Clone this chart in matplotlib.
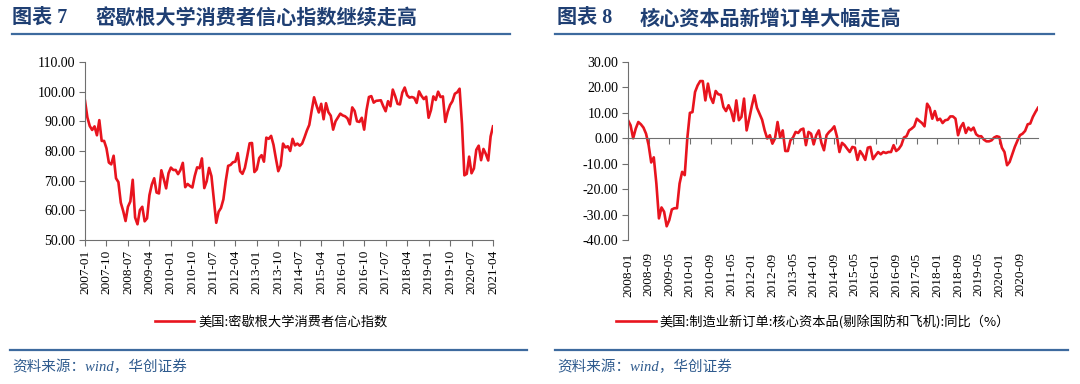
import matplotlib
matplotlib.use("Agg")
from matplotlib import pyplot as plt
from matplotlib.lines import Line2D
import numpy as np

plt.rcParams['font.family'] = ['Noto Sans CJK SC', 'DejaVu Sans']

# 美国:密歇根大学消费者信心指数, 2007-01 .. 2021-04
umich = [
    96.9, 91.3, 88.4, 87.1, 88.3, 85.3, 90.4, 83.4, 83.4, 80.9, 76.1, 75.5,
    78.4, 70.8, 69.5, 62.6, 59.8, 56.4, 61.2, 63.0, 70.3, 57.6, 55.3, 60.1,
    61.2, 56.3, 57.3, 65.1, 68.7, 70.8, 66.0, 65.7, 73.5, 70.6, 67.4, 72.5,
    74.4, 73.6, 73.6, 72.2, 73.6, 76.0, 67.8, 68.9, 68.2, 67.7, 71.6, 74.5,
    74.2, 77.5, 67.5, 69.8, 74.3, 71.5, 63.7, 55.8, 59.5, 60.8, 63.7, 69.9,
    75.0, 75.3, 76.2, 76.4, 79.3, 73.2, 72.3, 74.3, 78.3, 82.6, 82.7, 72.9,
    73.8, 77.6, 78.6, 76.4, 84.5, 84.1, 85.1, 82.1, 77.5, 73.2, 75.1, 82.5,
    81.2, 81.6, 80.0, 84.1, 81.9, 82.5, 81.8, 82.5, 84.6, 86.9, 88.8, 93.6,
    98.1, 95.4, 93.0, 95.9, 90.7, 96.1, 93.1, 91.9, 87.2, 90.0, 91.3, 92.6,
    92.0, 91.7, 91.0, 89.0, 94.7, 93.5, 90.0, 89.8, 91.2, 87.2, 93.8, 98.2,
    98.5, 96.3, 96.9, 97.0, 97.1, 95.1, 93.4, 96.8, 95.1, 100.7, 98.5, 95.9,
    95.7, 99.7, 101.4, 98.8, 98.0, 98.2, 97.9, 96.2, 100.1, 98.6, 97.5, 98.3,
    91.2, 93.8, 98.4, 97.2, 100.0, 98.2, 98.4, 89.8, 93.2, 95.5, 96.8, 99.3,
    99.8, 101.0, 89.1, 71.8, 72.3, 78.1, 72.5, 74.1, 80.4, 81.8, 76.9, 80.7,
    79.0, 76.8, 84.9, 88.3,
]

# 美国:制造业新订单:核心资本品(剔除国防和飞机):同比, 2008-01 .. 2021-04
core_orders = [
    7.1, 5.1, 0.0, 3.8, 6.4, 5.5, 4.2, 1.8, -2.7, -9.5, -7.5, -17.8,
    -31.5, -27.2, -28.9, -34.6, -32.2, -28.0, -27.5, -27.5, -17.8, -13.2, -14.5, 0.0,
    10.0, 10.3, 18.2, 20.8, 22.5, 22.5, 14.9, 21.5, 16.2, 13.9, 18.6, 17.3,
    17.1, 12.3, 10.7, 13.0, 10.7, 6.8, 14.9, 7.1, 8.4, 15.6, 3.1, 7.7,
    12.6, 16.9, 12.0, 9.7, 7.3, 3.1, -0.1, 1.2, -2.1, -0.1, 6.4, 0.3,
    3.1, -5.0, -5.0, -0.8, 0.3, 2.5, 2.1, 3.4, 3.8, -2.7, 2.5, 1.8,
    -2.4, 1.2, 3.1, -1.8, -4.7, 1.2, 2.5, 3.4, 4.7, 0.8, -5.4, -1.8,
    -2.7, -4.1, -5.4, -3.4, -3.7, -8.5, -5.0, -6.5, -8.5, -3.7, -3.4, -8.2,
    -6.7, -5.4, -6.3, -5.4, -5.8, -5.4, -5.4, -2.7, -5.0, -4.2, -2.7, 0.3,
    0.8, 3.1, 3.8, 4.7, 7.7, 6.8, 6.0, 4.7, 13.6, 12.0, 7.7, 10.7,
    7.1, 7.7, 6.0, 7.1, 7.3, 8.6, 8.6, 7.7, 1.2, 4.4, 6.0, 2.1,
    4.2, 3.1, 4.2, 1.6, 0.8, 0.8, -0.5, -1.2, -1.2, -0.8, 0.3, 0.8,
    0.5, -3.7, -5.4, -10.6, -9.3, -6.3, -3.4, -1.0, 1.2, 1.8, 2.9, 5.5,
    5.8, 8.4, 10.3, 12.0,
]

left_start = 2007
right_start = 2008
red = '#e8141e'
blue = '#2f5b8e'
title_col = '#1f3f73'
axis_col = '#6f6f6f'
num_font = 'Liberation Serif'


def month_label(start, i):
    return str(start + i // 12) + "-" + "%02d" % (i % 12 + 1)


fig = plt.figure(figsize=(10.8, 3.84), dpi=100)

# ---- left chart ----
ax1 = fig.add_axes([85 / 1080, 1 - 240 / 384, 408 / 1080, 178 / 384])
x1 = np.arange(len(umich))
ax1.plot(x1, umich, color=red, lw=1.9, label="美国:密歇根大学消费者信心指数")
ax1.set_xlim(0, len(umich) - 1)
ax1.set_ylim(50, 110)
ax1.set_yticks(np.arange(50, 111, 10))
ax1.set_yticklabels(["%.2f" % v for v in np.arange(50, 111, 10)], family=num_font, fontsize=10)
t1 = np.arange(0, len(umich), 9)
ax1.set_xticks(t1)
ax1.set_xticklabels([month_label(left_start, i) for i in t1], rotation=90,
                    family=num_font, fontsize=9.5)
for s in ['top', 'right']:
    ax1.spines[s].set_visible(False)
for s in ['left', 'bottom']:
    ax1.spines[s].set_color(axis_col)
ax1.tick_params(colors=axis_col, labelcolor='black', length=4, width=0.8, pad=3)
ax1.legend(loc='center', bbox_to_anchor=(271 / 1080, 1 - 322 / 384),
           bbox_transform=fig.transFigure, frameon=False, fontsize=9.5,
           handlelength=3.0, handletextpad=0.3)

# ---- right chart ----
ax2 = fig.add_axes([628 / 1080, 1 - 240 / 384, 410 / 1080, 178 / 384])
x2 = np.arange(len(core_orders))
ax2.plot(x2, core_orders, color=red, lw=1.9,
         label="美国:制造业新订单:核心资本品(剔除国防和飞机):同比（%）")
ax2.set_xlim(0, len(core_orders) - 1)
ax2.set_ylim(-40, 30)
ax2.set_yticks(np.arange(-40, 31, 10))
ax2.set_yticklabels(["%.2f" % v for v in np.arange(-40, 31, 10)], family=num_font, fontsize=10)
t2 = np.arange(0, len(core_orders), 8)
ax2.set_xticks(t2)
ax2.set_xticklabels([])
ax2.spines['bottom'].set_position(('data', 0))
for s in ['top', 'right']:
    ax2.spines[s].set_visible(False)
for s in ['left', 'bottom']:
    ax2.spines[s].set_color(axis_col)
ax2.tick_params(colors=axis_col, labelcolor='black', length=4, width=0.8, pad=3)
sec = ax2.secondary_xaxis(0)
sec.set_xticks(t2)
sec.set_xticklabels([month_label(right_start, i) for i in t2], rotation=90,
                    family=num_font, fontsize=9.5)
sec.spines['bottom'].set_visible(False)
sec.tick_params(length=0, pad=9)
ax2.legend(loc='center', bbox_to_anchor=(813 / 1080, 1 - 322 / 384),
           bbox_transform=fig.transFigure, frameon=False, fontsize=9.5,
           handlelength=3.0, handletextpad=0.3)

# ---- titles, rules, source ----
for x0, num, title in [(12, "图表 7", "密歇根大学消费者信心指数继续走高"),
                       (557, "图表 8", "核心资本品新增订单大幅走高")]:
    fig.text(x0 / 1080, 1 - 18 / 384, num, fontsize=14.5, fontweight='bold',
             color=title_col, va='center', ha='left',
             family=['Liberation Serif', 'Noto Sans CJK SC'])
    fig.text((x0 + 83) / 1080, 1 - 18 / 384, title, fontsize=14.5, fontweight='bold',
             color=title_col, va='center', ha='left')

for xa, xb in [(12, 510), (555, 1054)]:
    fig.add_artist(Line2D([xa / 1080, xb / 1080], [1 - 34 / 384] * 2,
                          color='#3d6a9e', lw=1.6, transform=fig.transFigure))
for xa, xb in [(10, 527), (555, 1068)]:
    fig.add_artist(Line2D([xa / 1080, xb / 1080], [1 - 350 / 384] * 2,
                          color='#3d6a9e', lw=1.6, transform=fig.transFigure))
for x0 in [12, 557]:
    fig.text(x0 / 1080, 1 - 367 / 384, "资料来源：wind，华创证券", fontsize=10.5,
             style='italic', color=blue, va='center', ha='left',
             family=['Liberation Serif', 'Noto Sans CJK SC'])

fig.savefig("out.png", dpi=100)
